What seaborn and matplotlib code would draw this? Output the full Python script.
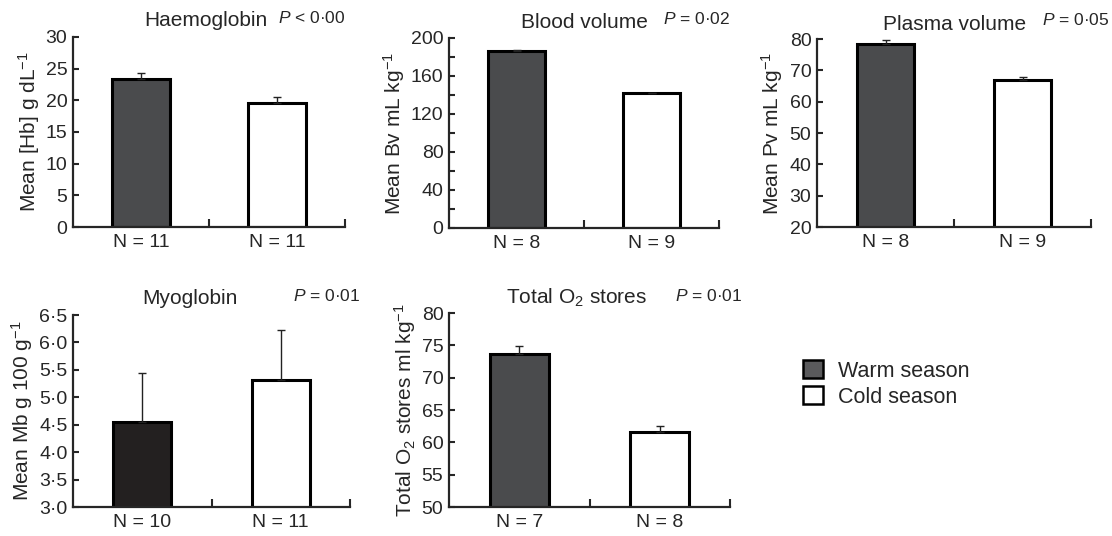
import numpy as np
import pandas as pd
import matplotlib
matplotlib.use("Agg")
import matplotlib.pyplot as plt
import matplotlib.ticker as mticker
from matplotlib.patches import Patch
import seaborn as sns

# valores
seasons = ["Warm season", "Cold season"]

hb_mean = [23.4, 19.6]
hb_err = [0.9, 0.9]
hb_n = ["N = 11", "N = 11"]

bv_mean = [186.5, 142.0]
bv_err = [0.6, 0.5]
bv_n = ["N = 8", "N = 9"]

pv_mean = [78.5, 66.8]
pv_err = [1.2, 1.1]
pv_n = ["N = 8", "N = 9"]

mb_mean = [4.55, 5.32]
mb_err = [0.90, 0.90]
mb_n = ["N = 10", "N = 11"]

o2_mean = [73.7, 61.6]
o2_err = [1.2, 1.0]
o2_n = ["N = 7", "N = 8"]

sns.set_style("ticks")
plt.rcParams["font.family"] = ["Liberation Sans", "DejaVu Sans"]
plt.rcParams["mathtext.fontset"] = "custom"
plt.rcParams["mathtext.rm"] = "Liberation Sans"
plt.rcParams["mathtext.it"] = "Liberation Sans:italic"

W, H = 1112, 536
fig = plt.figure(figsize=(W / 100, H / 100), dpi=100)


def px_axes(left, right, top, bottom):
    return fig.add_axes([left / W, 1 - bottom / H, (right - left) / W, (bottom - top) / H])


def dot_fmt(decimals):
    return mticker.FuncFormatter(lambda v, p: f"{v:.{decimals}f}".replace(".", "·"))


def panel(ax, means, errs, nlabels, ylim, step, ylabel, warm="#4a4b4d", minor=None, decimals=0):
    df = pd.DataFrame({"season": seasons, "value": means})
    sns.barplot(data=df, x="season", y="value", hue="season", palette=[warm, "white"],
                edgecolor="black", linewidth=2.2, width=0.42, legend=False, ax=ax)
    ax.errorbar([0, 1], means, yerr=[[0, 0], errs], fmt="none", ecolor="#222222",
                elinewidth=1.0, capsize=3, capthick=1.0, zorder=5)
    ax.set_xlim(-0.5, 1.5)
    ax.set_ylim(*ylim)
    ax.set_yticks(np.arange(ylim[0], ylim[1] + step / 2, step))
    if minor:
        ax.yaxis.set_minor_locator(mticker.MultipleLocator(minor))
    ax.yaxis.set_major_formatter(dot_fmt(decimals))
    ax.set_xticks([0, 1])
    ax.set_xticklabels(nlabels, fontsize=14)
    ax.set_xticks([0.5, 1.5], minor=True)
    ax.tick_params(axis="x", which="major", length=0, pad=5)
    ax.tick_params(axis="x", which="minor", direction="in", length=6, width=1.5)
    ax.tick_params(axis="y", which="both", direction="in", length=4, width=1.5, labelsize=14, pad=4)
    ax.set_xlabel("")
    ax.set_ylabel(ylabel, fontsize=15, labelpad=3)
    for s in ["top", "right"]:
        ax.spines[s].set_visible(False)
    for s in ["left", "bottom"]:
        ax.spines[s].set_linewidth(1.6)


ax1 = px_axes(73, 345, 37, 227)
panel(ax1, hb_mean, hb_err, hb_n, (0, 30), 5, "Mean [Hb] g dL$^{-1}$")
ax2 = px_axes(449, 719, 38, 228)
panel(ax2, bv_mean, bv_err, bv_n, (0, 200), 40, "Mean Bv mL kg$^{-1}$", minor=20)
ax3 = px_axes(817, 1091, 39, 227)
panel(ax3, pv_mean, pv_err, pv_n, (20, 80), 10, "Mean Pv mL kg$^{-1}$")
ax4 = px_axes(73, 350, 315, 507)
panel(ax4, mb_mean, mb_err, mb_n, (3.0, 6.5), 0.5, "Mean Mb g 100 g$^{-1}$", warm="#231f20", decimals=1)
ax5 = px_axes(449, 730, 313, 507)
panel(ax5, o2_mean, o2_err, o2_n, (50, 80), 5, "Total O$_2$ stores ml kg$^{-1}$")

# títulos y valores P
titles = [
    ("Haemoglobin", 206, 20, "$P$ < 0·00", 278, 18),
    ("Blood volume", 584, 22, "$P$ = 0·02", 663, 19),
    ("Plasma volume", 955, 24, "$P$ = 0·05", 1042, 20),
    ("Myoglobin", 190, 298, "$P$ = 0·01", 293, 296),
    ("Total O$_2$ stores", 577, 298, "$P$ = 0·01", 675, 296),
]
for t, tx, ty, p, px, py in titles:
    fig.text(tx / W, 1 - ty / H, t, ha="center", va="center", fontsize=15)
    fig.text(px / W, 1 - py / H, p, ha="left", va="center", fontsize=12.5)

handles = [Patch(facecolor="#5a5a5c", edgecolor="black", linewidth=1.8),
           Patch(facecolor="white", edgecolor="black", linewidth=1.8)]
fig.legend(handles, seasons, loc="center left", bbox_to_anchor=(784 / W, 1 - 384 / H),
           frameon=False, fontsize=15.5, handlelength=0.9, handleheight=0.9,
           handletextpad=0.7, labelspacing=0.2)

fig.savefig("out.png", dpi=100)
